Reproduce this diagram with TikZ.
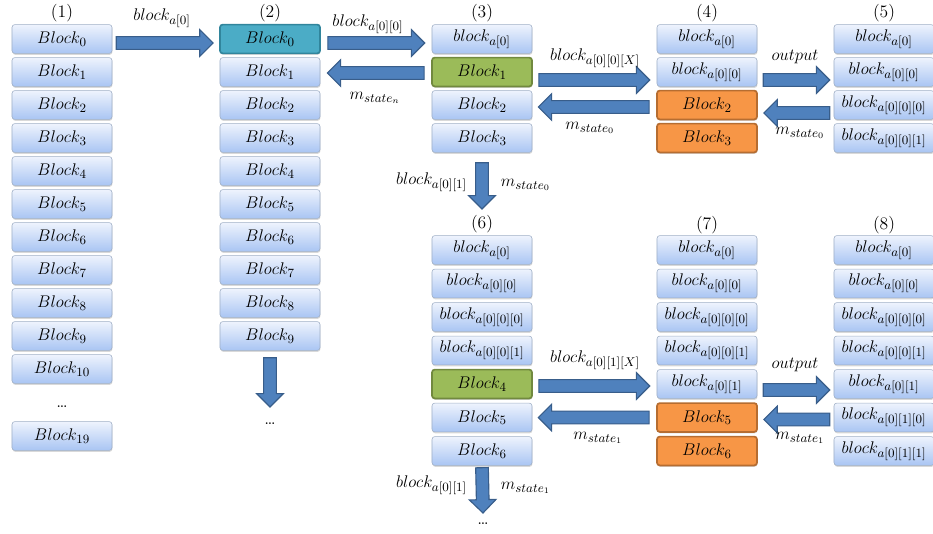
\documentclass[tikz,border=0pt]{standalone}
\usetikzlibrary{calc,shadows}

\definecolor{boxtop}{HTML}{EEF3FD}
\definecolor{boxbot}{HTML}{A9C5F3}
\definecolor{boxline}{HTML}{9FAFC6}
\definecolor{tealfill}{HTML}{4BACC6}
\definecolor{tealline}{HTML}{31859C}
\definecolor{greenfill}{HTML}{9BBB59}
\definecolor{greenline}{HTML}{71893F}
\definecolor{orangefill}{HTML}{F79646}
\definecolor{orangeline}{HTML}{B66D31}
\definecolor{arrowfill}{HTML}{4F81BD}
\definecolor{arrowline}{HTML}{385D8A}

\tikzset{
  blkbase/.style={rectangle, rounded corners=2pt, minimum width=2.5cm, minimum height=0.72cm,
    inner sep=1pt, drop shadow={shadow xshift=0.3pt, shadow yshift=-1pt, opacity=0.3}},
  blk/.style={blkbase, draw=boxline, top color=boxtop, bottom color=boxbot},
  tealblk/.style={blkbase, draw=tealline, fill=tealfill, line width=1.2pt},
  greenblk/.style={blkbase, draw=greenline, fill=greenfill, line width=1.2pt},
  orangeblk/.style={blkbase, draw=orangeline, fill=orangefill, line width=1.2pt},
  fat/.style={draw=arrowline, fill=arrowfill, line width=0.8pt, line join=miter}
}

% fat block arrow from #1 to #2
\newcommand{\fatarrow}[2]{%
  \path[fat] let \p1=#1, \p2=#2,
    \n1={atan2(\y2-\y1,\x2-\x1)}, \n2={veclen(\x2-\x1,\y2-\y1)} in
    ([shift={(\p1)},rotate=\n1]0pt,-4.5pt) -- ([shift={(\p1)},rotate=\n1]{\n2-9.5pt},-4.5pt)
    -- ([shift={(\p1)},rotate=\n1]{\n2-9.5pt},-9.5pt) -- ([shift={(\p1)},rotate=\n1]\n2,0pt)
    -- ([shift={(\p1)},rotate=\n1]{\n2-9.5pt},9.5pt) -- ([shift={(\p1)},rotate=\n1]{\n2-9.5pt},4.5pt)
    -- ([shift={(\p1)},rotate=\n1]0pt,4.5pt) -- cycle;}

\begin{document}
\begin{tikzpicture}[x=0.025cm, y=-0.025cm, every node/.style={font=\fontsize{12.5}{14}\selectfont}]
	\useasboundingbox (0,0) rectangle (933,533);
	
	% (1) all blocks
	\node (n1) at (62,13) {(1)};
	\foreach \i in {0,...,10}
		\node[blk] (a\i) at (62,{39+33*\i}) {$Block_{\i}$};
	\node (adots) at (62,407) {\dots};
	\node[blk] (a19) at (62,436) {$Block_{19}$};
	
	% (2)
	\node (n2) at (270,13) {(2)};
	\node[tealblk] (b0) at (270,39) {$Block_{0}$};
	\foreach \i in {1,...,9}
		\node[blk] (b\i) at (270,{39+33*\i}) {$Block_{\i}$};
	\node (bdots) at (270,424) {\dots};
	
	% (3)
	\node (n3) at (482,13) {(3)};
	\node[blk] (c0) at (482,39) {$block_{a[0]}$};
	\node[greenblk] (c1) at (482,72) {$Block_{1}$};
	\node[blk] (c2) at (482,105) {$Block_{2}$};
	\node[blk] (c3) at (482,138) {$Block_{3}$};
	
	% (4)
	\node (n4) at (707,13) {(4)};
	\node[blk] (d0) at (707,39) {$block_{a[0]}$};
	\node[blk] (d1) at (707,72) {$block_{a[0][0]}$};
	\node[orangeblk] (d2) at (707,105) {$Block_{2}$};
	\node[orangeblk] (d3) at (707,138) {$Block_{3}$};
	
	% (5)
	\node (n5) at (884,13) {(5)};
	\node[blk] (e0) at (884,39) {$block_{a[0]}$};
	\node[blk] (e1) at (884,72) {$block_{a[0][0]}$};
	\node[blk] (e2) at (884,105) {$block_{a[0][0][0]}$};
	\node[blk] (e3) at (884,138) {$block_{a[0][0][1]}$};
	
	% (6)
	\node (n6) at (482,224) {(6)};
	\node[blk] (f0) at (482,250) {$block_{a[0]}$};
	\node[blk] (f1) at (482,283.5) {$block_{a[0][0]}$};
	\node[blk] (f2) at (482,317) {$block_{a[0][0][0]}$};
	\node[blk] (f3) at (482,350.5) {$block_{a[0][0][1]}$};
	\node[greenblk] (f4) at (482,384) {$Block_{4}$};
	\node[blk] (f5) at (482,417.5) {$Block_{5}$};
	\node[blk] (f6) at (482,451) {$Block_{6}$};
	\node (fdots) at (483,524) {\dots};
	
	% (7)
	\node (n7) at (707,225) {(7)};
	\node[blk] (g0) at (707,250) {$block_{a[0]}$};
	\node[blk] (g1) at (707,283.5) {$block_{a[0][0]}$};
	\node[blk] (g2) at (707,317) {$block_{a[0][0][0]}$};
	\node[blk] (g3) at (707,350.5) {$block_{a[0][0][1]}$};
	\node[blk] (g4) at (707,384) {$block_{a[0][1]}$};
	\node[orangeblk] (g5) at (707,417.5) {$Block_{5}$};
	\node[orangeblk] (g6) at (707,451) {$Block_{6}$};
	
	% (8)
	\node (n8) at (884,225) {(8)};
	\node[blk] (h0) at (884,250) {$block_{a[0]}$};
	\node[blk] (h1) at (884,283.5) {$block_{a[0][0]}$};
	\node[blk] (h2) at (884,317) {$block_{a[0][0][0]}$};
	\node[blk] (h3) at (884,350.5) {$block_{a[0][0][1]}$};
	\node[blk] (h4) at (884,384) {$block_{a[0][1]}$};
	\node[blk] (h5) at (884,417.5) {$block_{a[0][1][0]}$};
	\node[blk] (h6) at (884,451) {$block_{a[0][1][1]}$};
	
	% arrows, top row
	\fatarrow{($(a0.east)+(4,4)$)}{($(b0.west)+(-6,4)$)}
	\fatarrow{($(b0.east)+(7,4)$)}{($(c0.west)+(-7,4)$)}
	\fatarrow{($(c1.west)+(-7,1)$)}{($(b1.east)+(7,1)$)}
	\fatarrow{($(c1.east)+(6,8)$)}{($(d1.west)+(-7,8)$)}
	\fatarrow{($(d2.west)+(-7,2)$)}{($(c2.east)+(6,2)$)}
	\fatarrow{($(d1.east)+(6,8)$)}{($(e1.west)+(-4,8)$)}
	\fatarrow{($(e2.west)+(-4,8)$)}{($(d2.east)+(6,8)$)}
	\fatarrow{($(b9.south)+(0,7)$)}{($(bdots)+(0,-17)$)}
	\fatarrow{($(c3.south)+(0,10)$)}{($(n6)+(0,-15)$)}
	
	% arrows, bottom row
	\fatarrow{($(f4.east)+(6,2)$)}{($(g4.west)+(-7,2)$)}
	\fatarrow{($(g5.west)+(-7,0)$)}{($(f5.east)+(6,0)$)}
	\fatarrow{($(g4.east)+(6,6)$)}{($(h4.west)+(-4,6)$)}
	\fatarrow{($(h5.west)+(-4,2)$)}{($(g5.east)+(6,2)$)}
	\fatarrow{($(f6.south)+(0,2)$)}{($(fdots)+(0,-11)$)}
	
	% arrow labels
	\node (l1) at (162,18) {$block_{a[0]}$};
	\node (l2) at (368,24) {$block_{a[0][0]}$};
	\node (l3) at (375,98) {$m_{state_n}$};
	\node (l4) at (595,58) {$block_{a[0][0][X]}$};
	\node (l5) at (590,128) {$m_{state_0}$};
	\node (l6) at (795,57) {$output$};
	\node (l7) at (800,133) {$m_{state_0}$};
	\node[anchor=east] (l8) at (472,182) {$block_{a[0][1]}$};
	\node[anchor=west] (l9) at (496,185) {$m_{state_0}$};
	\node (l10) at (595,360) {$block_{a[0][1][X]}$};
	\node (l11) at (598,438) {$m_{state_1}$};
	\node (l12) at (795,365) {$output$};
	\node (l13) at (800,438) {$m_{state_1}$};
	\node[anchor=east] (l14) at (472,485) {$block_{a[0][1]}$};
	\node[anchor=west] (l15) at (496,488) {$m_{state_1}$};
\end{tikzpicture}
\end{document}
